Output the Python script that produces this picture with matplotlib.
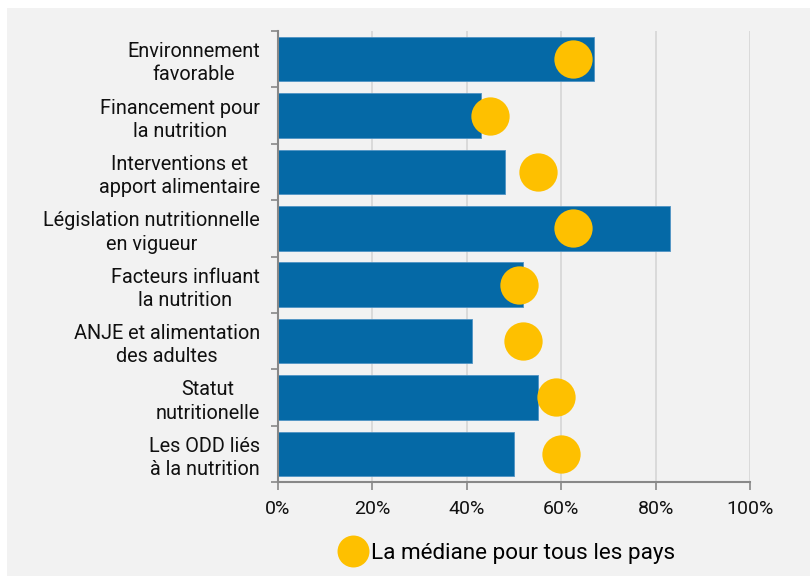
import matplotlib
matplotlib.use("Agg")
import matplotlib.pyplot as plt
from matplotlib.patches import Rectangle
from matplotlib.lines import Line2D
from matplotlib.ticker import FuncFormatter

categories = ["Environnement\nfavorable", "Financement pour\nla nutrition",
              "Interventions et\napport alimentaire", "Législation nutritionnelle\nen vigueur",
              "Facteurs influant\nla nutrition", "ANJE et alimentation\ndes adultes",
              "Statut\nnutritionelle", "Les ODD liés\nà la nutrition"]
bar_values = [67, 43, 48, 83, 52, 41, 55, 50]
median_values = [62.5, 45, 55, 62.5, 51, 52, 59, 60]
x_ticks = [0, 20, 40, 60, 80, 100]
legend_label = "La médiane pour tous les pays"

plt.rcParams['font.family'] = ['Roboto', 'DejaVu Sans']

fig = plt.figure(figsize=(8.1, 5.76), dpi=100, facecolor='white')
fig.patches.append(Rectangle((7/810, 0), 1, 1 - 8/576, transform=fig.transFigure,
                             facecolor='#f2f2f2', edgecolor='none', zorder=-10))
ax = fig.add_axes([278/810, 1 - 482/576, (750-278)/810, (482-31)/576])
ax.set_facecolor('none')

n = len(categories)
ys = list(range(n))
ax.barh(ys, bar_values, height=0.79, color='#0569a6', edgecolor='#4f93c4', linewidth=0.6, zorder=2)
ax.scatter(median_values, ys, s=760, color='#fec000', zorder=3, linewidths=0)

ax.set_ylim(n - 0.5, -0.5)
ax.set_xlim(0, 100)
ax.set_xticks(x_ticks)
ax.xaxis.set_major_formatter(FuncFormatter(lambda v, p: f"{int(v)}%"))
ax.set_yticks([i - 0.5 for i in range(n + 1)], minor=False)
ax.set_yticklabels([])
ax.set_yticks(ys, minor=True)
ax.set_yticklabels(categories, minor=True, fontsize=14.3, ha='right', multialignment='center',
                   color='#111111', linespacing=1.28)
ax.tick_params(axis='y', which='minor', length=0, pad=13)
ax.tick_params(axis='y', which='major', length=5, color='#888888', width=1.2)
ax.tick_params(axis='x', length=6, color='#888888', width=1.2, labelsize=14, pad=7, labelcolor='#111111')

ax.grid(axis='x', color='#d6d6d6', linewidth=1.2, zorder=0)
ax.set_axisbelow(True)
for s in ['top', 'right']:
    ax.spines[s].set_visible(False)
for s in ['left', 'bottom']:
    ax.spines[s].set_color('#888888')
    ax.spines[s].set_linewidth(1.5)

handle = Line2D([], [], marker='o', linestyle='none', markersize=23,
                markerfacecolor='#fec000', markeredgewidth=0)
fig.legend([handle], [legend_label], loc='center', bbox_to_anchor=(507/810, 1 - 553/576),
           frameon=False, fontsize=16.2, handletextpad=0.2, handlelength=1.2)

fig.savefig("out.png", dpi=100, facecolor='white')
